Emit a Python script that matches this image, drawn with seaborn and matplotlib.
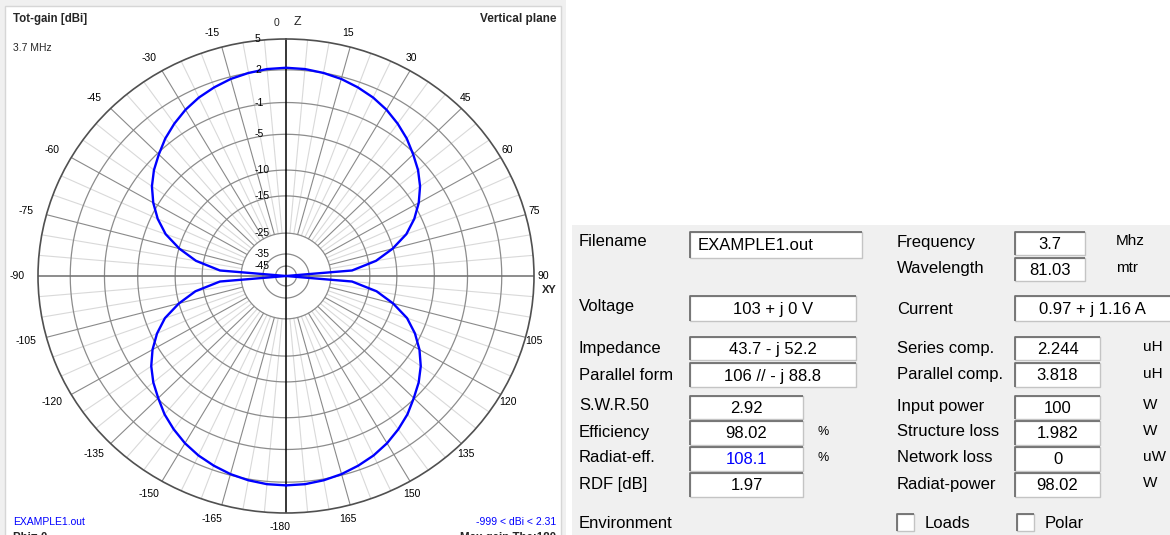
import numpy as np
import pandas as pd
import matplotlib
matplotlib.use("Agg")
import matplotlib.pyplot as plt
import matplotlib.transforms as mtransforms
from matplotlib.patches import Rectangle
import seaborn as sns

# ---------------- radiation pattern, vertical plane (Phi = 0) ----------------
theta_deg = [-180, -175, -170, -165, -160, -155, -150, -145, -140, -135, -130,
             -125, -120, -115, -110, -105, -100, -95, -90, -85, -80, -75, -70,
             -65, -60, -55, -50, -45, -40, -35, -30, -25, -20, -15, -10, -5, 0,
             5, 10, 15, 20, 25, 30, 35, 40, 45, 50, 55, 60, 65, 70, 75, 80, 85,
             90, 95, 100, 105, 110, 115, 120, 125, 130, 135, 140, 145, 150, 155,
             160, 165, 170, 175, 180]
gain_dbi = [2.31, 2.27, 2.12, 1.90, 1.60, 1.25, 0.80, 0.25, -0.35, -1.10, -2.00,
            -3.05, -4.30, -5.80, -7.60, -10.0, -13.5, -19.5, -999, -19.5, -13.6,
            -10.1, -7.7, -5.9, -4.4, -3.15, -2.1, -1.2, -0.45, 0.15, 0.70, 1.15,
            1.50, 1.80, 2.00, 2.15, 2.20,
            2.15, 2.00, 1.80, 1.50, 1.15, 0.70, 0.15, -0.45, -1.2, -2.1, -3.15,
            -4.4, -5.9, -7.7, -10.1, -13.6, -19.5,
            -999, -19.5, -13.5, -10.0, -7.60, -5.80, -4.30, -3.05, -2.00, -1.10,
            -0.35, 0.25, 0.80, 1.25, 1.60, 1.90, 2.12, 2.27, 2.31]

# gain rings and the radial scale (fraction of the outer ring) they sit on
ring_db = [5, 2, -1, -5, -10, -15, -25, -35, -45]
ring_frac = [1.0, 0.870, 0.732, 0.598, 0.447, 0.338, 0.181, 0.093, 0.042]
FLOOR_DB = -60

# angle tick labels around the rim (0 is drawn next to the Z marker)
angle_ticks = [a for a in range(-165, 181, 15) if a != 0]

# ---------------- result panel ----------------
left_labels = ["Filename", "Voltage", "Impedance", "Parallel form", "S.W.R.50",
               "Efficiency", "Radiat-eff.", "RDF [dB]"]
left_values = ["EXAMPLE1.out", "103 + j 0 V", "43.7 - j 52.2", "106 // - j 88.8",
               "2.92", "98.02", "108.1", "1.97"]
left_units = ["", "", "", "", "", "%", "%", ""]
right_labels = ["Frequency", "Wavelength", "Current", "Series comp.", "Parallel comp.",
                "Input power", "Structure loss", "Network loss", "Radiat-power"]
right_values = ["3.7", "81.03", "0.97 + j 1.16 A", "2.244", "3.818", "100", "1.982",
                "0", "98.02"]
right_units = ["Mhz", "mtr", "", "uH", "uH", "W", "W", "uW", "W"]
check_labels = ["Loads", "Polar"]

sns.set_theme(style="white")
plt.rcParams["font.family"] = ["Liberation Sans", "DejaVu Sans"]

W, H = 1170, 535
fig = plt.figure(figsize=(W / 100, H / 100), dpi=100)
fig.patch.set_facecolor("white")

# pixel-space canvas for panels and static text
bg = fig.add_axes([0, 0, 1, 1], zorder=0)
bg.set_xlim(0, W)
bg.set_ylim(H, 0)
bg.axis("off")

bg.add_patch(Rectangle((0, 0), 566, H, facecolor="#f0f0f0", edgecolor="none"))
bg.add_patch(Rectangle((5, 6), 556, H, facecolor="white", edgecolor="#d6d6d6", lw=1))
bg.add_patch(Rectangle((572, 225), W - 572, H - 225, facecolor="#f0f0f0", edgecolor="none"))

# ---------------- polar plot ----------------
db_asc = np.array([FLOOR_DB] + ring_db[::-1], dtype=float)
fr_asc = np.array([0.0] + ring_frac[::-1], dtype=float)


def r_forward(v):
    return np.interp(np.asarray(v, dtype=float), db_asc, fr_asc)


def r_inverse(f):
    return np.interp(np.asarray(f, dtype=float), fr_asc, db_asc)


cx, cy, rx, ry = 286, 276, 248, 237
ax = fig.add_axes([(cx - rx) / W, (H - cy - ry) / H, 2 * rx / W, 2 * ry / H],
                  projection="polar", zorder=1)
ax.set_aspect("auto")
ax.set_facecolor("white")
ax.set_theta_zero_location("N")
ax.set_theta_direction(-1)
ax.set_rscale("function", functions=(r_forward, r_inverse))

th = np.linspace(0, 2 * np.pi, 721)
for v in ring_db[1:]:
    ax.plot(th, np.full_like(th, v), color="#8c8c8c", lw=0.9, zorder=1)

for a in range(0, 360, 5):
    if a % 90 == 0:
        continue
    col = "#8a8a8a" if a % 15 == 0 else "#d9d9d9"
    ax.plot([np.deg2rad(a)] * 2, [-25, 5], color=col, lw=0.8, zorder=0.8 if a % 15 else 1)

for a, col in [(0, "black"), (180, "black"), (90, "#6e6e6e"), (270, "#6e6e6e")]:
    ax.plot([np.deg2rad(a)] * 2, [FLOOR_DB, 5], color=col, lw=1.1, zorder=2)

df = pd.DataFrame({"theta": np.deg2rad(theta_deg),
                   "gain": np.clip(np.array(gain_dbi, dtype=float), FLOOR_DB, None)})
sns.lineplot(data=df, x="theta", y="gain", sort=False, estimator=None, ax=ax,
             color="#0000ff", linewidth=1.7, zorder=5)
ax.set_xlabel("")
ax.set_ylabel("")
ax.set_rlim(FLOOR_DB, 5)
ax.set_xticks([])
ax.set_yticks([])
ax.grid(False)
ax.spines["polar"].set_color("#505050")
ax.spines["polar"].set_linewidth(1.2)

ring_tr = mtransforms.offset_copy(ax.transData, fig=fig, x=-31, y=0, units="dots")
for v in ring_db:
    ax.text(0, v, f"{v}", transform=ring_tr, ha="left", va="center",
            fontsize=7.5, color="black", zorder=6, clip_on=False)

ang_tr = mtransforms.offset_copy(ax.transAxes, fig=fig, x=-6, y=0, units="dots")
for a in angle_ticks:
    t = np.deg2rad(a)
    lab = "-180" if a == 180 else f"{a}"
    ax.text(0.5 + 0.53 * np.sin(t), 0.5 + 0.53 * np.cos(t), lab, transform=ang_tr,
            ha="center", va="center", fontsize=7.5, color="black", clip_on=False)

# ---------------- plot captions ----------------
bg.text(13, 19, "Tot-gain [dBi]", fontsize=8.3, fontweight="bold", va="center")
bg.text(556, 19, "Vertical plane", fontsize=8.5, fontweight="bold", va="center", ha="right")
bg.text(13, 48, "3.7 MHz", fontsize=7.5, va="center")
bg.text(277, 23, "0", fontsize=7.5, va="center", ha="center")
bg.text(297, 22, "Z", fontsize=9, va="center", ha="center")
bg.text(549, 290, "XY", fontsize=8, fontweight="bold", va="center", ha="center")
bg.text(13, 522, "EXAMPLE1.out", fontsize=7.5, color="#0000ff", va="center")
bg.text(556, 522, "-999 < dBi < 2.31", fontsize=7.5, color="#0000ff", va="center", ha="right")
bg.text(13, 538, "Phi= 0", fontsize=8.3, fontweight="bold", va="center")
bg.text(556, 538, "Max gain The:180", fontsize=8.3, fontweight="bold", va="center", ha="right")


# ---------------- result panel ----------------
def sunken_box(x0, y0, x1, y1):
    bg.add_patch(Rectangle((x0, y0), x1 - x0, y1 - y0, facecolor="white",
                           edgecolor="#c4c4c4", lw=1, zorder=2))
    bg.plot([x0, x0, x1], [y1, y0, y0], color="#6f6f6f", lw=1.3, zorder=3,
            solid_capstyle="butt")


FS = 12
lab_x_left, lab_x_right = 579, 897
left_rows = [(242, 232, 258, 690, 862), (307, 296, 321, 690, 856),
             (348, 337, 360, 690, 856), (375, 363, 387, 690, 856),
             (406, 396, 419, 690, 803), (432, 421, 445, 690, 803),
             (458, 447, 471, 690, 803), (484, 473, 497, 690, 803)]
right_rows = [(242, 232, 255, 1015, 1085), (269, 258, 281, 1015, 1085),
              (309, 296, 321, 1015, 1176), (348, 337, 360, 1015, 1100),
              (375, 363, 387, 1015, 1100), (406, 396, 419, 1015, 1100),
              (432, 421, 445, 1015, 1100), (458, 447, 471, 1015, 1100),
              (484, 473, 497, 1015, 1100)]

for i, (lab, val, unit) in enumerate(zip(left_labels, left_values, left_units)):
    ly, y0, y1, x0, x1 = left_rows[i]
    bg.text(lab_x_left, ly, lab, fontsize=FS, va="center", color="black")
    sunken_box(x0, y0, x1, y1)
    col = "#0000ff" if lab == "Radiat-eff." else "black"
    if lab == "Filename":
        bg.text(x0 + 8, (y0 + y1) / 2 + 1, val, fontsize=FS, va="center", color=col, zorder=4)
    else:
        bg.text((x0 + x1) / 2, (y0 + y1) / 2 + 1, val, fontsize=FS, va="center",
                ha="center", color=col, zorder=4)
    if unit:
        bg.text(818, ly, unit, fontsize=9, va="center", color="black")

for i, (lab, val, unit) in enumerate(zip(right_labels, right_values, right_units)):
    ly, y0, y1, x0, x1 = right_rows[i]
    bg.text(lab_x_right, ly, lab, fontsize=FS, va="center", color="black")
    sunken_box(x0, y0, x1, y1)
    xc = 1092 if lab == "Current" else (x0 + x1) / 2
    bg.text(xc, (y0 + y1) / 2 + 1, val, fontsize=FS, va="center", ha="center",
            color="black", zorder=4)
    if unit:
        ux = 1116 if lab in ("Frequency", "Wavelength") else 1143
        bg.text(ux, ly - 1, unit, fontsize=FS - 1, va="center", color="black")

bg.text(lab_x_left, 523, "Environment", fontsize=FS, va="center", color="black")
for lab, bx in zip(check_labels, [897, 1017]):
    sunken_box(bx, 514, bx + 17, 531)
    bg.text(bx + 28, 523, lab, fontsize=FS, va="center", color="black")

fig.savefig("out.png", dpi=100, facecolor=fig.get_facecolor())
